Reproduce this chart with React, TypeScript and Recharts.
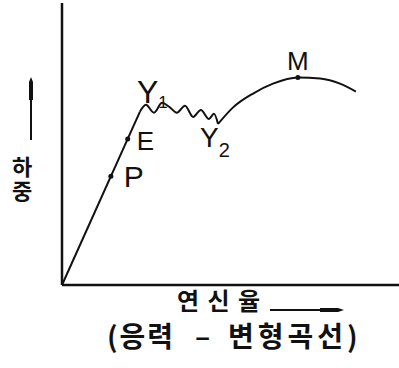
import { LineChart, Line, XAxis, YAxis, ReferenceLine, ReferenceDot } from "recharts";

// strain (x) vs load (y), both on a 0-100 scale
const elastic = [
  { x: 0, y: 0 },
  { x: 23.1, y: 61.4 },
];

const yieldWave = [
  { x: 23.1, y: 61.4 },
  { x: 24.9, y: 63.9 },
  { x: 27.3, y: 61.1 },
  { x: 29.7, y: 64.6 },
  { x: 31.8, y: 63.2 },
  { x: 34.1, y: 61.1 },
  { x: 36.5, y: 63.6 },
  { x: 38.9, y: 59.6 },
  { x: 41.2, y: 62.1 },
  { x: 43.6, y: 58.9 },
  { x: 45.1, y: 60.7 },
  { x: 46.3, y: 57.1 },
];

const hardening = [
  { x: 46.3, y: 57.1 },
  { x: 50.7, y: 62.9 },
  { x: 56.7, y: 67.9 },
  { x: 62.6, y: 71.4 },
  { x: 70.0, y: 73.6 },
  { x: 76.6, y: 73.2 },
  { x: 82.5, y: 71.4 },
  { x: 87.2, y: 68.6 },
];

const pointP = { x: 14.5, y: 38.6 };
const pointE = { x: 19.5, y: 51.8 };
const pointY1 = { x: 24.9, y: 63.9 };
const pointY2 = { x: 46.3, y: 57.1 };
const pointM = { x: 70.0, y: 73.6 };

const INK = "#111";
const LATIN = "'Liberation Sans', Arial, sans-serif";
const KOREAN = "'Noto Sans CJK KR', sans-serif";

// label drawn next to a reference dot, optional subscript in the same <text>
function textAt(value: string, dx: number, dy: number, size: number, anchor = "start", sub?: { text: string; dy: number; size: number }) {
  return (props: any) => {
    const vb = props.viewBox || {};
    const cx = vb.x + (vb.width || 0) / 2;
    const cy = vb.y + (vb.height || 0) / 2;
    return (
      <text x={cx + dx} y={cy + dy} fontSize={size} fontFamily={LATIN} fill={INK} textAnchor={anchor}>
        {value}
        {sub && (
          <tspan dy={sub.dy} fontSize={sub.size}>
            {sub.text}
          </tspan>
        )}
      </text>
    );
  };
}

export default function App() {
  return (
    <div style={{ position: "absolute", left: 0, top: 0, width: 399, height: 368, background: "#fff" }}>
      <LineChart width={399} height={368} margin={{ top: 3, right: 0, left: 62, bottom: 83 }}>
        <XAxis type="number" dataKey="x" domain={[0, 100]} hide />
        <YAxis type="number" dataKey="y" domain={[0, 100]} hide />
        <ReferenceLine x={0} stroke={INK} strokeWidth={2.5} />
        <ReferenceLine y={0} stroke={INK} strokeWidth={2.5} />
        <Line data={elastic} dataKey="y" type="linear" stroke={INK} strokeWidth={2} dot={false} isAnimationActive={false} />
        <Line data={yieldWave} dataKey="y" type="monotone" stroke={INK} strokeWidth={2} dot={false} isAnimationActive={false} />
        <Line data={hardening} dataKey="y" type="monotone" stroke={INK} strokeWidth={2} dot={false} isAnimationActive={false} />
        <ReferenceDot x={pointP.x} y={pointP.y} r={2.5} fill={INK} stroke="none" label={textAt("P", 13, 11, 30)} />
        <ReferenceDot x={pointE.x} y={pointE.y} r={2.5} fill={INK} stroke="none" label={textAt("E", 9, 11, 26)} />
        <ReferenceDot x={pointY1.x} y={pointY1.y} r={0} fill="none" stroke="none" label={textAt("Y", -9, -2, 32, "start", { text: "1", dy: 5, size: 17 })} />
        <ReferenceDot x={pointY2.x} y={pointY2.y} r={0} fill="none" stroke="none" label={textAt("Y", -18, 23, 28, "start", { text: "2", dy: 10, size: 20 })} />
        <ReferenceDot x={pointM.x} y={pointM.y} r={2.5} fill={INK} stroke="none" label={textAt("M", 0, -7, 26, "middle")} />
      </LineChart>
      <svg width={399} height={368} style={{ position: "absolute", left: 0, top: 0, pointerEvents: "none" }}>
        <line x1={31} y1={140} x2={31} y2={96} stroke={INK} strokeWidth={2} />
        <path d="M29 100 L29 82 L31 77 L33 82 L33 100 Z" fill={INK} />
        <text x={22} y={156} fontSize={22} fontFamily={KOREAN} fontWeight={700} fill={INK} letterSpacing={2} style={{ writingMode: "vertical-rl" }}>하중</text>
        <text x={177} y={310} fontSize={24} fontFamily={KOREAN} fontWeight={700} fill={INK} textLength={83} lengthAdjust="spacing">연신율</text>
        <line x1={270} y1={310} x2={322} y2={310} stroke={INK} strokeWidth={2} />
        <path d="M320 308 L338 308 L344 310 L338 312 L320 312 Z" fill={INK} />
        <text y={347} fontSize={28} fontFamily={KOREAN} fontWeight={700} fill={INK}>
          <tspan x={107} letterSpacing={2}>(응력</tspan>
          <tspan x={195}>–</tspan>
          <tspan x={228} letterSpacing={4}>변형곡선)</tspan>
        </text>
      </svg>
    </div>
  );
}
